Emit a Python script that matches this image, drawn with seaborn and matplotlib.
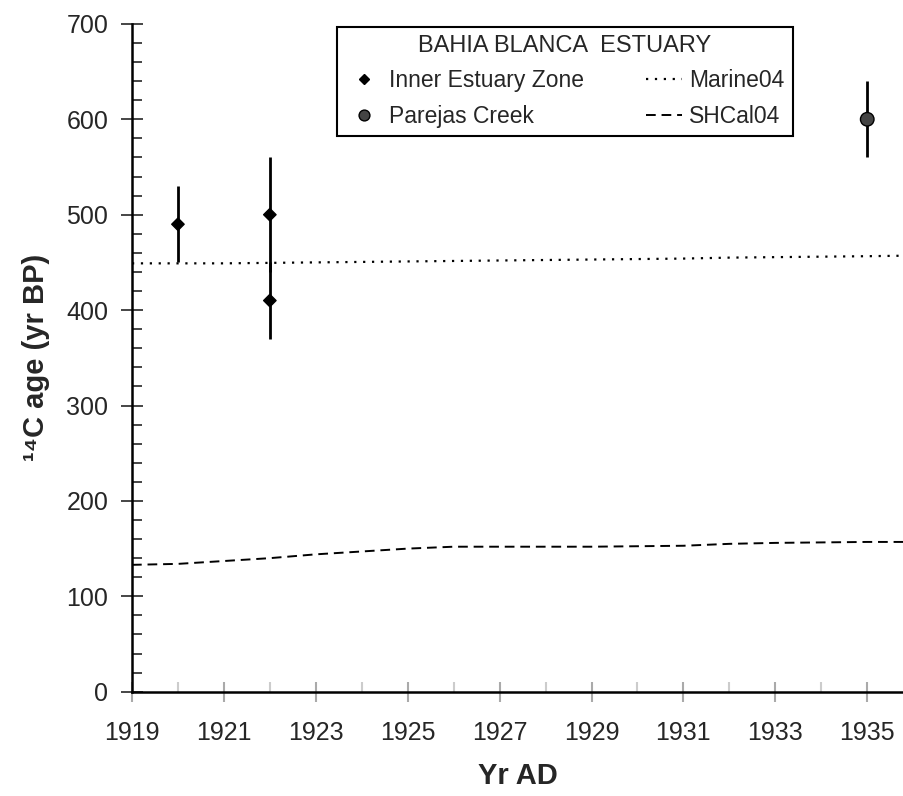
import numpy as np
import pandas as pd
import matplotlib.pyplot as plt
import seaborn as sns
from matplotlib.ticker import MultipleLocator

# sample ages
site = ["Inner Estuary Zone", "Inner Estuary Zone", "Inner Estuary Zone", "Parejas Creek"]
year = [1920, 1922, 1922, 1935]
age = [490, 500, 410, 600]
err = [40, 60, 40, 40]

# calibration curves
cal_year = [1919, 1920, 1921, 1922, 1923, 1924, 1925, 1926, 1927, 1929, 1931, 1932, 1933, 1935, 1935.8]
marine04 = [449, 449, 449, 449.5, 450, 450.5, 451, 451.5, 452, 453, 454, 455, 455.5, 456.5, 457]
shcal04 = [133, 134, 137, 140, 144, 147, 150, 152, 152, 152, 153, 155, 156, 157, 157]

sns.set_style("ticks")
plt.rcParams["font.family"] = ["Liberation Sans", "DejaVu Sans"]

samples = pd.DataFrame({"site": site, "year": year, "age": age, "err": err})
curves = pd.DataFrame({"year": cal_year, "Marine04": marine04, "SHCal04": shcal04})

fig = plt.figure(figsize=(9.04, 7.96), dpi=100)
ax = fig.add_axes([0.146, 0.131, 0.854, 0.839])

sns.lineplot(data=curves, x="year", y="Marine04", ax=ax, color="black",
             lw=1.6, linestyle=(0, (1, 3)), label="Marine04")
sns.lineplot(data=curves, x="year", y="SHCal04", ax=ax, color="black",
             lw=1.4, linestyle=(0, (5, 3)), label="SHCal04")

ax.errorbar(samples["year"], samples["age"], yerr=samples["err"], fmt="none",
            ecolor="black", elinewidth=2, capsize=0, zorder=3)

sns.scatterplot(data=samples, x="year", y="age", hue="site", style="site", size="site",
                markers={"Inner Estuary Zone": "D", "Parejas Creek": "o"},
                palette={"Inner Estuary Zone": "black", "Parejas Creek": "#444444"},
                sizes={"Inner Estuary Zone": 40, "Parejas Creek": 95},
                edgecolor="black", linewidth=1, ax=ax, zorder=4)

ax.set_xlim(1919, 1935.8)
ax.set_ylim(0, 700)
ax.set_xticks(range(1919, 1936, 2))
ax.xaxis.set_minor_locator(MultipleLocator(1))
ax.yaxis.set_major_locator(MultipleLocator(100))
ax.yaxis.set_minor_locator(MultipleLocator(20))
ax.tick_params(axis="y", which="major", direction="inout", length=16, width=1.2,
               labelsize=18, pad=9)
ax.tick_params(axis="y", which="minor", direction="in", length=7, width=1.2)
ax.tick_params(axis="x", which="major", direction="inout", length=14, width=1.5,
               color="#aaaaaa", labelsize=18, pad=14)
ax.tick_params(axis="x", which="minor", direction="in", length=7, width=1.5,
               color="#cccccc")

sns.despine(ax=ax)
for side in ["left", "bottom"]:
    ax.spines[side].set_linewidth(1.8)
    ax.spines[side].set_color("black")

ax.set_xlabel("Yr AD", fontsize=21, fontweight="bold", labelpad=12)
ax.set_ylabel("¹⁴C age (yr BP)", fontsize=21, fontweight="bold", labelpad=12)

h, l = ax.get_legend_handles_labels()
order = [l.index("Inner Estuary Zone"), l.index("Parejas Creek"),
         l.index("Marine04"), l.index("SHCal04")]
leg = ax.legend([h[i] for i in order], [l[i] for i in order], ncol=2,
                title="BAHIA BLANCA  ESTUARY", title_fontsize=17, fontsize=16.5,
                loc="upper left", bbox_to_anchor=(0.266, 0.996), borderaxespad=0,
                frameon=True, fancybox=False, edgecolor="black",
                handlelength=1.6, handletextpad=0.3, columnspacing=2.7,
                borderpad=0.35, labelspacing=0.55, markerscale=0.8)
leg.get_frame().set_linewidth(1.5)
leg.get_frame().set_alpha(1)

fig.savefig("out.png", dpi=100)
